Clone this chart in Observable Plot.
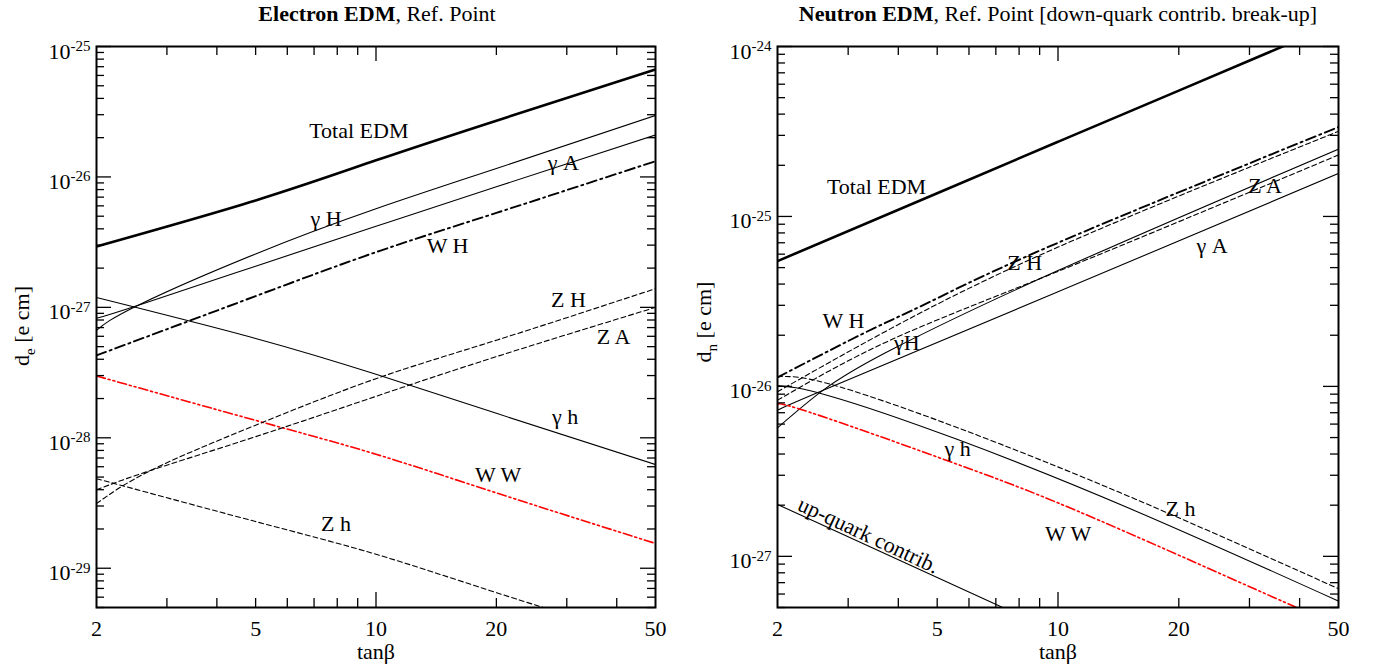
<!DOCTYPE html>
<html><head><meta charset="utf-8">
<script src="https://cdn.jsdelivr.net/npm/d3@7"></script>
<script src="https://cdn.jsdelivr.net/npm/@observablehq/plot@0.6"></script>
<style>
body{margin:0;background:#fff;font-family:"Liberation Serif",serif;}
#wrap{position:relative;width:1375px;height:666px;overflow:hidden;}
.panel{position:absolute;top:0;}
.panel text{font-family:"Liberation Serif",serif !important;}
.title{position:absolute;top:1px;font-size:22px;white-space:nowrap;transform:translateX(-50%);color:#000;}
.xlab{position:absolute;top:639px;font-size:22px;white-space:nowrap;transform:translateX(-50%);}
.ylab{position:absolute;font-size:22px;white-space:nowrap;transform:translate(-50%,-50%) rotate(-90deg);}
.ylab sub{font-size:15px;}
</style></head>
<body><div id="wrap"></div>
<script>
// ---------------- Electron EDM panel data ----------------
const eTotalX = [2, 5, 10, 20, 50];
const eTotalY = [2.93e-27, 6.6e-27, 1.34e-26, 2.7e-26, 6.67e-26];
const eGHX = [2, 2.535, 5, 10, 20, 50];
const eGHY = [6.67e-28, 1.035e-27, 2.57e-27, 5.7e-27, 1.16e-26, 2.96e-26];
const eGAX = [2, 2.535, 5, 10, 20, 50];
const eGAY = [8.24e-28, 1.035e-27, 2.07e-27, 4.18e-27, 8.4e-27, 2.1e-26];
const eWHX = [2, 5, 10, 20, 50];
const eWHY = [4.28e-28, 1.22e-27, 2.65e-27, 5.3e-27, 1.32e-26];
const eGhX = [2, 5, 10, 20, 50];
const eGhY = [1.19e-27, 5.78e-28, 3.07e-28, 1.54e-28, 6.24e-29];
const eWWX = [2, 5, 10, 20, 50];
const eWWY = [2.98e-28, 1.36e-28, 7.48e-29, 3.78e-29, 1.55e-29];
const eZHX = [2, 2.74, 5, 10, 20, 50];
const eZHY = [3.13e-29, 5.64e-29, 1.25e-28, 2.84e-28, 5.6e-28, 1.39e-27];
const eZAX = [2, 2.74, 5, 10, 20, 50];
const eZAY = [4.0e-29, 5.64e-29, 1.02e-28, 2.08e-28, 4.19e-28, 1.0e-27];
const eZhX = [2, 5, 10, 20, 50];
const eZhY = [4.86e-29, 2.28e-29, 1.28e-29, 6.5e-30, 2.7e-30];

const eLabT = ["Total EDM", "γ H", "γ A", "W H", "Z H", "Z A", "γ h", "W W", "Z h"];
const eLabX = [9.06, 7.5, 29.4, 15.1, 30.3, 39.3, 29.7, 20.2, 7.94];
const eLabY = [2.27e-26, 4.8e-27, 1.27e-26, 2.98e-27, 1.13e-27, 5.9e-28, 1.44e-28, 5.2e-29, 2.17e-29];

// ---------------- Neutron EDM panel data ----------------
const nTotalX = [2, 5, 10, 20, 50];
const nTotalY = [5.46e-26, 1.37e-25, 2.75e-25, 5.5e-25, 1.38e-24];
const nWHX = [2, 3, 3.82, 5, 10, 50];
const nWHY = [1.13e-26, 1.85e-26, 2.44e-26, 3.3e-26, 7.0e-26, 3.36e-25];
const nZHX = [2, 3.82, 10, 50];
const nZHY = [9.3e-27, 2.18e-26, 6.6e-26, 3.17e-25];
const nZAX = [2, 3.82, 10, 50];
const nZAY = [8.3e-27, 1.87e-26, 4.75e-26, 2.30e-25];
const nGHX = [2, 2.6, 3.82, 10, 50];
const nGHY = [5.7e-27, 9.5e-27, 1.63e-26, 4.8e-26, 2.49e-25];
const nGAX = [2, 2.6, 10, 50];
const nGAY = [7.2e-27, 9.5e-27, 3.6e-26, 1.79e-25];
const nGhX = [2, 2.67, 5.58, 15.6, 50];
const nGhY = [1.01e-26, 8.85e-27, 4.9e-27, 1.85e-27, 5.45e-28];
const nZhX = [2, 2.67, 5.58, 15.6, 50];
const nZhY = [1.14e-26, 1.04e-26, 5.75e-27, 2.17e-27, 6.45e-28];
const nWWX = [2, 2.4, 5.58, 12.66, 38.7, 50];
const nWWY = [7.73e-27, 7.06e-27, 3.5e-27, 1.63e-27, 5.08e-28, 4.0e-28];
const nUpX = [2, 7.17, 50];
const nUpY = [2.02e-27, 5.08e-28, 6.2e-29];

const nLabT = ["Total EDM", "Z A", "γ A", "Z H", "W H", "γH", "γ h", "Z h", "W W", "up-quark contrib."];
const nLabX = [3.53, 32.8, 24.2, 8.26, 2.92, 4.2, 5.62, 20.2, 10.6, 3.37];
const nLabY = [1.5e-25, 1.52e-25, 6.75e-26, 5.36e-26, 2.44e-26, 1.8e-26, 4.3e-27, 1.9e-27, 1.35e-27, 1.33e-27];
const nLabR = [0, 0, 0, 0, 0, 0, 0, 0, 0, 25];

// ---------------- axes ----------------
const xTickLabels = [2, 5, 10, 20, 50];
const xMajorTicks = [10];
const xMinorTicks = [3, 4, 5, 6, 7, 8, 9, 20, 30, 40];

// ---------------- styles ----------------
const FONT = "Liberation Serif, serif";
const styles = {
  total: {stroke: "black", strokeWidth: 2.6},
  solid: {stroke: "black", strokeWidth: 1.1},
  dashed: {stroke: "black", strokeWidth: 1.1, strokeDasharray: "5,3"},
  dashdot: {stroke: "black", strokeWidth: 1.9, strokeDasharray: "10,4,2,4"},
  ww: {stroke: "#ff0000", strokeWidth: 1.6, strokeDasharray: "9,3,2,3,2,3"}
};

const pts = (xs, ys) => xs.map((x, i) => ({x, y: ys[i]}));
const labs = (t, xs, ys, rs) => t.map((s, i) => ({t: s, x: xs[i], y: ys[i], r: rs ? rs[i] : 0}));

function decadeTicks(lo, hi) {
  const majors = [], minors = [];
  for (let e = Math.floor(Math.log10(lo)) - 1; e <= Math.ceil(Math.log10(hi)); e++) {
    for (let k = 1; k <= 9; k++) {
      const v = k * Math.pow(10, e);
      if (v < lo * 0.999 || v > hi * 1.001) continue;
      (k === 1 ? majors : minors).push(v);
    }
  }
  return {majors, minors};
}

function makePanel({lines, labels, yDomain, width, marginLeft, marginRight}) {
  const H = 666, mt = 46, mb = 59;
  const pw = width - marginLeft - marginRight, ph = H - mt - mb;
  const {majors, minors} = decadeTicks(yDomain[0], yDomain[1]);
  const marks = [];
  for (const L of lines) {
    marks.push(Plot.line(pts(L.x, L.y), {x: "x", y: "y", curve: "natural", clip: true, ...styles[L.style]}));
  }
  const tk = {strokeWidth: 1.3, stroke: "black"};
  marks.push(Plot.tickY(majors, {y: d => d, insetRight: pw - 15, ...tk}));
  marks.push(Plot.tickY(minors, {y: d => d, insetRight: pw - 8, ...tk}));
  marks.push(Plot.tickY(majors, {y: d => d, insetLeft: pw - 15, ...tk}));
  marks.push(Plot.tickY(minors, {y: d => d, insetLeft: pw - 8, ...tk}));
  marks.push(Plot.tickX(xMajorTicks, {x: d => d, insetTop: ph - 15, ...tk}));
  marks.push(Plot.tickX(xMinorTicks, {x: d => d, insetTop: ph - 9, ...tk}));
  marks.push(Plot.tickX(xMajorTicks, {x: d => d, insetBottom: ph - 15, ...tk}));
  marks.push(Plot.tickX(xMinorTicks, {x: d => d, insetBottom: ph - 9, ...tk}));
  marks.push(Plot.frame({stroke: "black", strokeWidth: 2}));
  marks.push(Plot.axisX(xTickLabels, {tickSize: 0, tickPadding: 13, tickFormat: d => String(d), label: null, fontSize: 22, fontFamily: FONT}));
  marks.push(Plot.axisY(majors, {tickSize: 0, tickPadding: 6, dy: 5, label: null, fontSize: 22, fontFamily: FONT,
    tickFormat: d => "10^" + Math.round(Math.log10(d))}));
  marks.push(Plot.text(labels, {x: "x", y: "y", text: "t", rotate: "r", fontSize: 22, fontFamily: FONT, fill: "black", textAnchor: "middle"}));
  const svg = Plot.plot({
    width, height: H, marginLeft, marginRight, marginTop: mt, marginBottom: mb,
    x: {type: "log", domain: [2, 50]},
    y: {type: "log", domain: yDomain},
    style: {fontFamily: FONT, fontSize: "22px", color: "black", background: "white", overflow: "visible"},
    marks
  });
  svg.querySelectorAll('g[aria-label="y-axis tick label"] text').forEach(t => {
    const parts = t.textContent.split("^");
    t.textContent = parts[0];
    const ts = document.createElementNS("http://www.w3.org/2000/svg", "tspan");
    ts.setAttribute("dy", "-0.5em");
    ts.setAttribute("font-size", "15");
    ts.textContent = parts[1];
    t.appendChild(ts);
  });
  return svg;
}

const wrap = document.getElementById("wrap");

const left = makePanel({
  width: 687, marginLeft: 96, marginRight: 32,
  yDomain: [5e-30, 1e-25],
  lines: [
    {x: eTotalX, y: eTotalY, style: "total"},
    {x: eGHX, y: eGHY, style: "solid"},
    {x: eGAX, y: eGAY, style: "solid"},
    {x: eWHX, y: eWHY, style: "dashdot"},
    {x: eGhX, y: eGhY, style: "solid"},
    {x: eWWX, y: eWWY, style: "ww"},
    {x: eZHX, y: eZHY, style: "dashed"},
    {x: eZAX, y: eZAY, style: "dashed"},
    {x: eZhX, y: eZhY, style: "dashed"}
  ],
  labels: labs(eLabT, eLabX, eLabY)
});
left.classList.add("panel"); left.style.left = "0px";
wrap.appendChild(left);

const right = makePanel({
  width: 688, marginLeft: 90, marginRight: 37,
  yDomain: [5e-28, 1e-24],
  lines: [
    {x: nTotalX, y: nTotalY, style: "total"},
    {x: nWHX, y: nWHY, style: "dashdot"},
    {x: nZHX, y: nZHY, style: "dashed"},
    {x: nZAX, y: nZAY, style: "dashed"},
    {x: nGHX, y: nGHY, style: "solid"},
    {x: nGAX, y: nGAY, style: "solid"},
    {x: nGhX, y: nGhY, style: "solid"},
    {x: nZhX, y: nZhY, style: "dashed"},
    {x: nWWX, y: nWWY, style: "ww"},
    {x: nUpX, y: nUpY, style: "solid"}
  ],
  labels: labs(nLabT, nLabX, nLabY, nLabR)
});
right.classList.add("panel"); right.style.left = "687px";
wrap.appendChild(right);

function addDiv(cls, html, css) {
  const d = document.createElement("div");
  d.className = cls; d.innerHTML = html;
  Object.assign(d.style, css);
  wrap.appendChild(d);
}
addDiv("title", "<b>Electron EDM</b>, Ref. Point", {left: "377px"});
addDiv("title", "<b>Neutron EDM</b>, Ref. Point [down-quark contrib. break-up]", {left: "1058px"});
addDiv("xlab", "tanβ", {left: "376px"});
addDiv("xlab", "tanβ", {left: "1058px"});
addDiv("ylab", "d<sub>e</sub> [e cm]", {left: "24px", top: "326px"});
addDiv("ylab", "d<sub>n</sub> [e cm]", {left: "706px", top: "322px"});
</script>
</body></html>
